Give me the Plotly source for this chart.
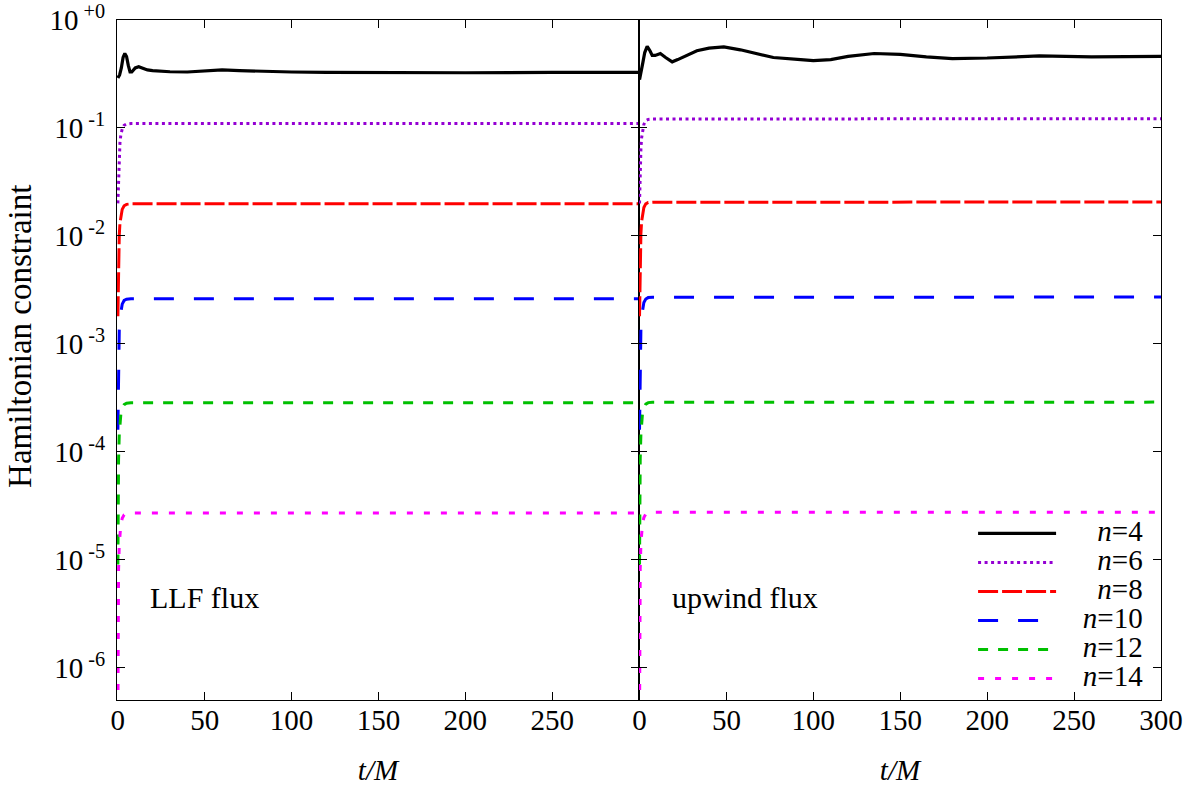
import plotly.graph_objects as go

# ---------------- data ----------------
t_rise = [0, 0.2, 0.4, 0.8, 1.2, 1.7, 2.5, 3.6, 5, 7.5, 300]

# LLF flux (left panel)
t4_L = [0, 1, 2, 3, 4, 5, 6, 7, 8, 9, 10, 12, 14, 17, 20, 25, 30, 40, 50, 60, 70, 80,
        100, 120, 150, 200, 250, 300]
n4_L = [0.29, 0.31, 0.36, 0.45, 0.49, 0.46, 0.38, 0.33, 0.33, 0.35, 0.36, 0.37, 0.36,
        0.345, 0.34, 0.335, 0.332, 0.33, 0.335, 0.345, 0.34, 0.335, 0.33, 0.328, 0.325,
        0.325, 0.327, 0.327]
n6_L = [0.020, 0.028, 0.036, 0.058, 0.073, 0.086, 0.098, 0.106, 0.109, 0.110, 0.110]
n8_L = [1.8e-3, 3.4e-3, 5.9e-3, 0.0101, 0.0131, 0.0154, 0.0176, 0.0190, 0.0196, 0.0198, 0.0198]
n10_L = [1.6e-4, 4.5e-4, 7.9e-4, 1.34e-3, 1.73e-3, 2.04e-3, 2.33e-3, 2.52e-3, 2.59e-3, 2.62e-3, 2.62e-3]
n12_L = [9e-6, 4.8e-5, 8.5e-5, 1.45e-4, 1.87e-4, 2.22e-4, 2.53e-4, 2.73e-4, 2.81e-4, 2.84e-4, 2.84e-4]
n14_L = [3e-7, 4.6e-6, 8.1e-6, 1.38e-5, 1.79e-5, 2.11e-5, 2.41e-5, 2.60e-5, 2.68e-5, 2.71e-5, 2.71e-5]

# upwind flux (right panel)
t4_R = [0, 1, 2, 3, 4.4, 6, 7.3, 9, 12, 15, 18.8, 22, 25.5, 30, 33, 40, 48.5, 58, 68, 77,
        92.7, 100, 110, 120, 135, 150, 165, 180, 200, 230, 260, 300]
n4_R = [0.28, 0.33, 0.41, 0.50, 0.57, 0.52, 0.47, 0.47, 0.49, 0.45, 0.41, 0.43, 0.455, 0.49,
        0.52, 0.55, 0.565, 0.53, 0.49, 0.45, 0.43, 0.42, 0.43, 0.46, 0.49, 0.48, 0.455,
        0.44, 0.445, 0.465, 0.455, 0.46]
n6_R = [0.020, 0.030, 0.040, 0.064, 0.081, 0.095, 0.108, 0.117, 0.120, 0.121, 0.122]
n8_R = [1.8e-3, 3.5e-3, 6.2e-3, 0.0105, 0.0136, 0.0161, 0.0183, 0.0198, 0.0204, 0.0205, 0.0206]
n10_R = [1.6e-4, 4.6e-4, 8.1e-4, 1.38e-3, 1.79e-3, 2.11e-3, 2.41e-3, 2.60e-3, 2.68e-3, 2.70e-3, 2.71e-3]
n12_R = [9e-6, 4.9e-5, 8.6e-5, 1.47e-4, 1.90e-4, 2.25e-4, 2.56e-4, 2.76e-4, 2.85e-4, 2.87e-4, 2.88e-4]
n14_R = [3e-7, 4.7e-6, 8.3e-6, 1.40e-5, 1.82e-5, 2.15e-5, 2.45e-5, 2.64e-5, 2.72e-5, 2.74e-5, 2.75e-5]

labels = ["4", "6", "8", "10", "12", "14"]
panel_labels = ["LLF flux", "upwind flux"]
y_title = "Hamiltonian constraint"
x_ticks_L = [0, 50, 100, 150, 200, 250]
x_ticks_R = [0, 50, 100, 150, 200, 250, 300]
y_tickvals = [1, 1e-1, 1e-2, 1e-3, 1e-4, 1e-5, 1e-6]
y_exps = ["+0", "-1", "-2", "-3", "-4", "-5", "-6"]
y_ticktext = ["10<sup>\u00a0" + e + "</sup>" for e in y_exps]

# ---------------- styles ----------------
FONT = "Liberation Serif"
FS = 29
colors = ["#000000", "#9400D3", "#FF0000", "#0000FF", "#00C000", "#FF00FF"]
dashes = ["solid", "3px,3.5px", "20px,4px", "20px,20px", "10px,10px", "6px,11px"]
widths = [3.2, 3, 3, 3, 3, 3]
pads = [5, 5, 5, 3, 3, 3]

fig = go.Figure()

left = [(t4_L, n4_L)] + [(t_rise, s) for s in (n6_L, n8_L, n10_L, n12_L, n14_L)]
right = [(t4_R, n4_R)] + [(t_rise, s) for s in (n6_R, n8_R, n10_R, n12_R, n14_R)]

for i, (tx, ty) in enumerate(left):
    fig.add_trace(go.Scatter(x=tx, y=ty, mode="lines", xaxis="x", yaxis="y",
                             line=dict(color=colors[i], width=widths[i], dash=dashes[i]),
                             showlegend=False))
for i, (tx, ty) in enumerate(right):
    name = ("<span style='font-size:%dpx'>" % FS) + "\u00a0" * pads[i] + \
           "<i>n</i>=" + labels[i] + "</span>"
    fig.add_trace(go.Scatter(x=tx, y=ty, mode="lines", xaxis="x2", yaxis="y2",
                             line=dict(color=colors[i], width=widths[i], dash=dashes[i]),
                             name=name, showlegend=True))

axis_common = dict(showline=True, linecolor="black", linewidth=1.2, mirror="allticks",
                   ticks="inside", ticklen=8, tickwidth=1, tickcolor="black",
                   showgrid=False, zeroline=False, automargin=False,
                   tickfont=dict(family=FONT, size=FS, color="black"))

fig.update_layout(
    width=1193, height=788,
    margin=dict(l=117, r=32, t=20, b=88),
    paper_bgcolor="white", plot_bgcolor="white",
    font=dict(family=FONT, size=FS, color="black"),
    xaxis=dict(domain=[0, 0.5], range=[-0.5, 300], anchor="y",
               tickvals=x_ticks_L, ticktext=[str(v) for v in x_ticks_L],
               ticklabelstandoff=-6,
               title=dict(text="<i>t/M</i>", font=dict(family=FONT, size=FS), standoff=24),
               **axis_common),
    xaxis2=dict(domain=[0.5, 1], range=[-0.3, 300], anchor="y2",
                tickvals=x_ticks_R, ticktext=[str(v) for v in x_ticks_R],
                ticklabelstandoff=-6,
                title=dict(text="<i>t/M</i>", font=dict(family=FONT, size=FS), standoff=24),
                **axis_common),
    yaxis=dict(type="log", range=[-6.301, 0.0005], anchor="x",
               tickvals=y_tickvals, ticktext=y_ticktext, ticklabelstandoff=5,
               **axis_common),
    yaxis2=dict(type="log", range=[-6.301, 0.0005], anchor="x2", matches="y",
                tickvals=y_tickvals, showticklabels=False, **axis_common),
    legend=dict(x=0.820, y=0.2736, xanchor="left", yanchor="top",
                bgcolor="rgba(0,0,0,0)", borderwidth=0, itemwidth=78,
                font=dict(family=FONT, size=20), tracegroupgap=0),
    showlegend=True,
)

fig.add_annotation(x=-0.0929, y=0.534, xref="paper", yref="paper", text=y_title,
                   textangle=-90, showarrow=False, xanchor="center", yanchor="middle",
                   font=dict(family=FONT, size=33))
fig.add_annotation(x=17.3, y=-5.35, xref="x", yref="y", text=panel_labels[0],
                   showarrow=False, xanchor="left", yanchor="middle",
                   font=dict(family=FONT, size=30))
fig.add_annotation(x=17.7, y=-5.35, xref="x2", yref="y2", text=panel_labels[1],
                   showarrow=False, xanchor="left", yanchor="middle",
                   font=dict(family=FONT, size=30))

fig.write_html("out.html", config={"displayModeBar": False},
               post_script="document.body.style.margin='0';document.body.style.overflow='hidden';")
